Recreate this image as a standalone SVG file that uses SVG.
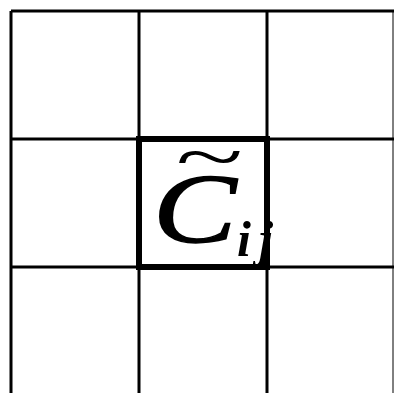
<svg xmlns="http://www.w3.org/2000/svg" width="394" height="393" viewBox="0 0 394 393">
<style>
.g{stroke:#000;stroke-width:3;fill:none}
.t{font-family:"Liberation Serif",serif;font-style:italic;fill:#000}
</style>
<rect width="394" height="393" fill="#fff"/>
<g id="grid" class="g">
<line x1="11" y1="11" x2="394" y2="11"/>
<line x1="11" y1="139" x2="394" y2="139"/>
<line x1="11" y1="267" x2="394" y2="267"/>
<line x1="11" y1="11" x2="11" y2="393"/>
<line x1="139" y1="11" x2="139" y2="393"/>
<line x1="267" y1="11" x2="267" y2="393"/>
<line x1="393" y1="11" x2="393" y2="393" stroke-width="1"/>
</g>
<g id="cell">
<rect x="139" y="139" width="128" height="128" fill="none" stroke="#000" stroke-width="6"/>
<text class="t" font-size="100" stroke="#000" stroke-width="1.5" transform="translate(153,242) scale(1.25,1)">C</text>
<text class="t" font-size="100" font-style="normal" transform="translate(174,181) scale(1.25,0.72)">~</text>
<text class="t" x="237" y="256" font-size="50" font-weight="bold">i</text>
<text class="t" x="259" y="256" font-size="50" font-weight="bold">j</text>
</g>
</svg>
